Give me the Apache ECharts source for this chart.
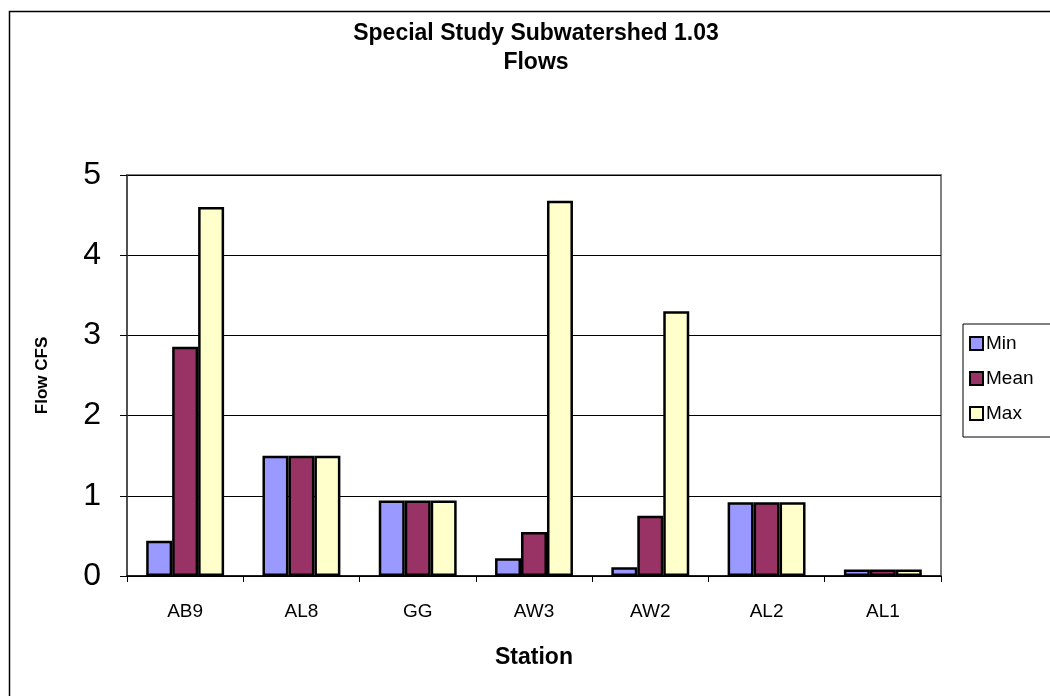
<!DOCTYPE html>
<html>
<head>
<meta charset="utf-8">
<script src="https://cdn.jsdelivr.net/npm/echarts@6/dist/echarts.min.js"></script>
<style>html,body{margin:0;padding:0;background:#fff;}#c{width:1050px;height:696px;}</style>
</head>
<body>
<div id="c"></div>
<script>
const stations = ['AB9', 'AL8', 'GG', 'AW3', 'AW2', 'AL2', 'AL1'];
const minFlow = [0.44, 1.50, 0.94, 0.22, 0.11, 0.92, 0.08];
const meanFlow = [2.86, 1.50, 0.94, 0.55, 0.75, 0.92, 0.08];
const maxFlow = [4.60, 1.50, 0.94, 4.68, 3.30, 0.92, 0.08];
const seriesNames = ['Min', 'Mean', 'Max'];
const seriesColors = ['#9999FF', '#993366', '#FFFFCC'];

const chart = echarts.init(document.getElementById('c'), null, {renderer: 'canvas'});
const font = 'Arial, "Liberation Sans", sans-serif';
const values = [minFlow, meanFlow, maxFlow];

chart.setOption({
  animation: false,
  backgroundColor: '#ffffff',
  title: {
    text: 'Special Study Subwatershed 1.03\nFlows',
    left: 531, top: 14, textAlign: 'center',
    textStyle: {fontFamily: font, fontWeight: 'bold', fontSize: 23, lineHeight: 29, color: '#000'}
  },
  legend: {
    orient: 'vertical',
    left: 963, top: 324,
    padding: [10, 30, 14, 6],
    itemWidth: 13, itemHeight: 13, itemGap: 16,
    borderColor: '#000', borderWidth: 1, backgroundColor: '#fff',
    icon: 'rect',
    textStyle: {fontFamily: font, fontSize: 19, color: '#000', padding: [0, 0, 0, -2]},
    data: seriesNames
  },
  grid: {left: 127, top: 175, right: 109, bottom: 120, show: true, borderColor: '#808080', borderWidth: 2, containLabel: false},
  xAxis: {
    type: 'category', data: stations,
    name: 'Station', nameLocation: 'middle', nameGap: 70,
    nameTextStyle: {fontFamily: font, fontWeight: 'bold', fontSize: 23, color: '#000'},
    axisLine: {lineStyle: {color: '#000', width: 1.5}},
    axisTick: {show: true, length: 6, lineStyle: {color: '#000'}},
    axisLabel: {fontFamily: font, fontSize: 19, color: '#000', margin: 26},
    splitLine: {show: false}
  },
  yAxis: {
    type: 'value', min: 0, max: 5, interval: 1,
    name: 'Flow CFS', nameLocation: 'middle', nameGap: 76, nameRotate: 90,
    nameTextStyle: {fontFamily: font, fontWeight: 'bold', fontSize: 17, color: '#000'},
    axisLine: {show: true, lineStyle: {color: '#404040', width: 1.5}},
    axisTick: {show: true, length: 7, lineStyle: {color: '#000'}},
    axisLabel: {fontFamily: font, fontSize: 32, color: '#000', margin: 26},
    splitLine: {show: true, lineStyle: {color: '#000', width: 1}}
  },
  graphic: [{
    type: 'rect', left: 7, top: 9, z: -1,
    shape: {width: 1060, height: 700},
    style: {fill: 'none', stroke: '#000', lineWidth: 1.5}
  }],
  series: seriesNames.map((n, i) => ({
    name: n, type: 'bar', data: values[i],
    barGap: '0%', barCategoryGap: '33%',
    itemStyle: {color: seriesColors[i], borderColor: '#000', borderWidth: 2.5}
  }))
});
</script>
</body>
</html>
